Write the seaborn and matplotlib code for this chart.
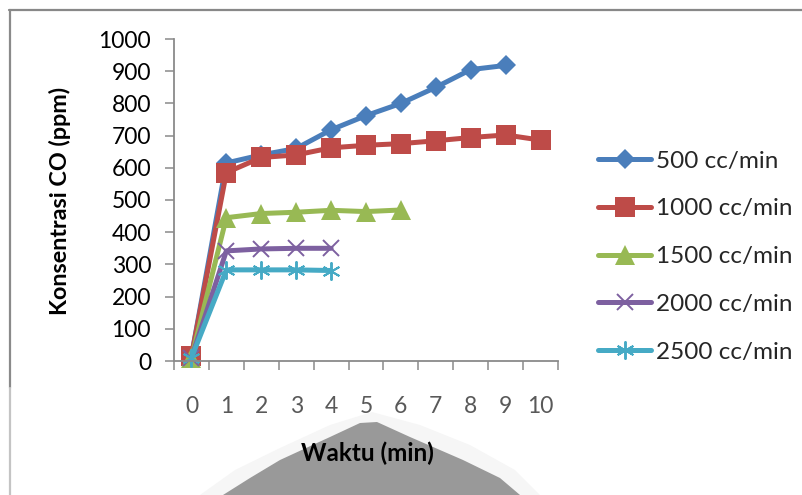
import numpy as np
import pandas as pd
import matplotlib
matplotlib.use("Agg")
import matplotlib.pyplot as plt
from matplotlib.lines import Line2D
from matplotlib.patches import Polygon
from matplotlib.ticker import FixedLocator, NullFormatter, FixedFormatter
import seaborn as sns

# Time categories (minutes) shown on the x axis
waktu = [0, 1, 2, 3, 4, 5, 6, 7, 8, 9, 10]

# CO concentration (ppm) for each gas flow rate
co_500 = [15, 615, 640, 660, 718, 762, 800, 850, 905, 918]
co_1000 = [15, 585, 632, 640, 662, 670, 675, 684, 694, 702, 686]
co_1500 = [10, 445, 458, 462, 468, 464, 469]
co_2000 = [10, 342, 348, 350, 350]
co_2500 = [10, 283, 283, 283, 281]

labels = ["500 cc/min", "1000 cc/min", "1500 cc/min", "2000 cc/min", "2500 cc/min"]
series = [co_500, co_1000, co_1500, co_2000, co_2500]
colors = ["#4A7EBB", "#BE4B48", "#98B954", "#7D60A0", "#46AAC5"]

frames = []
for lab, vals in zip(labels, series):
    frames.append(pd.DataFrame({"idx": np.arange(len(vals)),
                                "waktu": waktu[:len(vals)],
                                "co": vals, "laju": lab}))
df = pd.concat(frames, ignore_index=True)

sns.set_theme(style="white")
plt.rcParams["font.family"] = ["Lato", "DejaVu Sans"]

W, H = 803, 495
fig = plt.figure(figsize=(W / 100, H / 100), dpi=100)

def fx(px):
    return px / W

def fy(py):
    return 1 - py / H

# Outer chart frame
fig.add_artist(Line2D([fx(9), 1.0], [fy(10), fy(10)], color="#888888", lw=1.6))
fig.add_artist(Line2D([fx(10), fx(10)], [fy(10), fy(388)], color="#8a8a8a", lw=1.6))
fig.add_artist(Line2D([fx(10), fx(10)], [fy(388), 0.0], color="#c4c4c4", lw=1.6))

# Gray backdrop shape behind the x-axis title
halo = [(200, 495), (235, 470), (280, 448), (330, 425), (372, 412), (420, 425),
        (470, 445), (515, 470), (540, 495)]
fig.add_artist(Polygon([(fx(x), fy(y)) for x, y in halo], closed=True,
                       facecolor="#f6f6f6", edgecolor="none", zorder=0))
shape = [(223, 495), (250, 478), (280, 460), (330, 437), (360, 423), (377, 422),
         (410, 437), (463, 460), (500, 478), (520, 495)]
fig.add_artist(Polygon([(fx(x), fy(y)) for x, y in shape], closed=True,
                       facecolor="#999999", edgecolor="none", zorder=0))

ax = fig.add_axes([fx(174), fy(361), fx(558) - fx(174), fy(39) - fy(361)])
ax.set_facecolor("none")

styles = {
    "500 cc/min": dict(marker="D", markersize=10, mew=0),
    "1000 cc/min": dict(marker="s", markersize=14, mew=0),
    "1500 cc/min": dict(marker="^", markersize=14, mew=0),
    "2000 cc/min": dict(marker="x", markersize=12, mew=1.4),
    "2500 cc/min": dict(marker=(6, 2, 0), markersize=13, mew=1.4),
}

handles = []
for lab, col in zip(labels, colors):
    sub = df[df["laju"] == lab]
    st = styles[lab]
    sns.lineplot(data=sub, x="idx", y="co", ax=ax, color=col, lw=3.6,
                 marker=st["marker"], markersize=st["markersize"],
                 markeredgewidth=st["mew"], markeredgecolor=col,
                 markerfacecolor=col, legend=False, clip_on=False)
    handles.append(Line2D([0], [0], color=col, lw=3.6, marker=st["marker"],
                          markersize=st["markersize"], markeredgewidth=st["mew"],
                          markeredgecolor=col, markerfacecolor=col,
                          solid_capstyle="round"))

ax.set_xlim(-0.5, len(waktu) - 0.5)
ax.set_ylim(0, 1000)
ax.set_yticks(np.arange(0, 1001, 100))

# Category axis: tick marks on boundaries, labels centred in each category
ax.xaxis.set_major_locator(FixedLocator(np.arange(-0.5, len(waktu), 1.0)))
ax.xaxis.set_major_formatter(NullFormatter())
ax.xaxis.set_minor_locator(FixedLocator(np.arange(len(waktu))))
ax.xaxis.set_minor_formatter(FixedFormatter([str(w) for w in waktu]))

axis_col = "#8a8a8a"
for side in ["top", "right"]:
    ax.spines[side].set_visible(False)
for side in ["left", "bottom"]:
    ax.spines[side].set_color(axis_col)
    ax.spines[side].set_linewidth(1.3)

ax.tick_params(axis="y", which="major", direction="out", length=6.5, width=1.1,
               color=axis_col, labelsize=16.5, labelcolor="black", pad=10, left=True)
ax.tick_params(axis="x", which="major", direction="out", length=6.5, width=1.1,
               color=axis_col, bottom=True)
ax.tick_params(axis="x", which="minor", length=0, labelsize=16.5,
               labelcolor="#595959", pad=25)
ax.set_xlabel("")
ax.set_ylabel("")

fig.text(fx(60), fy(201), "Konsentrasi CO (ppm)", rotation=90, ha="center",
         va="center", fontsize=16.8, fontweight="bold", color="black")
fig.text(fx(367), fy(453), "Waktu (min)", ha="center", va="center",
         fontsize=17.5, fontweight="bold", color="black", zorder=3)

fig.legend(handles, labels, loc="center left", bbox_to_anchor=(fx(598), fy(256.5)),
           frameon=False, fontsize=17.5, handlelength=2.2, handletextpad=0.2,
           labelspacing=1.1, borderpad=0, borderaxespad=0)

fig.savefig("out.png", dpi=100)
